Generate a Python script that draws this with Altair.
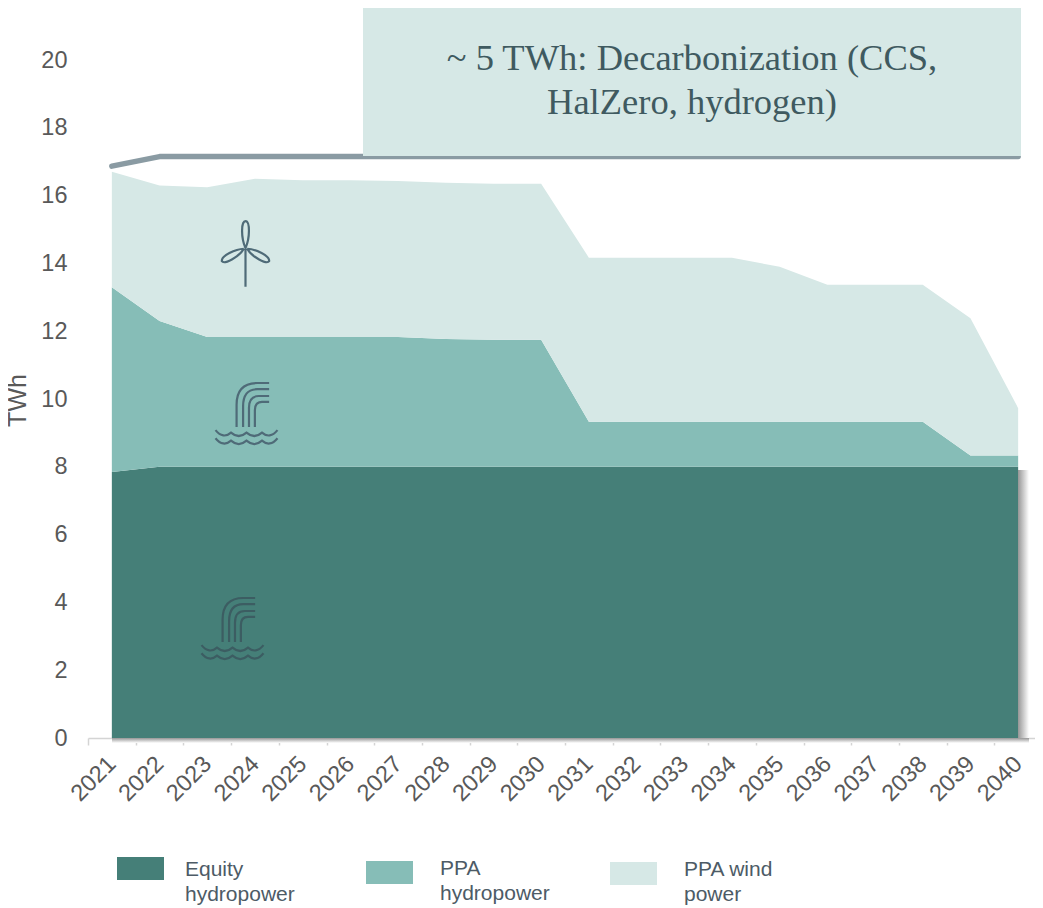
import altair as alt
import pandas as pd

years = [str(y) for y in range(2021, 2041)]
equity = [7.85] + [8.0] * 19
ppa_hydro = [5.45, 4.3, 3.83, 3.83, 3.83, 3.83, 3.83, 3.77, 3.75, 3.75,
             1.33, 1.33, 1.33, 1.33, 1.33, 1.33, 1.33, 1.33, 0.33, 0.33]
ppa_wind = [3.4, 4.0, 4.42, 4.67, 4.62, 4.62, 4.6, 4.61, 4.6, 4.6,
            4.84, 4.84, 4.84, 4.84, 4.57, 4.04, 4.04, 4.04, 4.05, 1.4]
target = [16.87] + [17.15] * 19
series = ["Equity hydropower", "PPA hydropower", "PPA wind power"]
colors = ["#457f78", "#86bdb7", "#d6e8e6"]
y_ticks = list(range(0, 21, 2))
box_lines = ["~ 5 TWh: Decarbonization (CCS,", "HalZero, hydrogen)"]

TXT = "#595959"
FONT = "Liberation Sans"
ICON = "#4f6b78"
LEFT, TOP, W, H = 88, 8, 954, 730
YMAX = 730 / 33.9

rows = []
for name, vals, order in zip(series, [equity, ppa_hydro, ppa_wind], [0, 1, 2]):
    for yr, v in zip(years, vals):
        rows.append({"year": yr, "value": v, "series": name, "order": order})
df = pd.DataFrame(rows)

x_enc = alt.X(
    "year:N", bandPosition=0.5, title=None,
    scale=alt.Scale(type="band", paddingInner=0, paddingOuter=0, domain=years),
    axis=alt.Axis(labelAngle=315, labelFontSize=23.5, labelFont=FONT, labelColor=TXT,
                  labelPadding=15, labelAlign="right", labelBaseline="middle",
                  tickBand="extent", tickColor="#d4d4d4", tickSize=7, tickWidth=1.5,
                  domainColor="#d4d4d4", domainWidth=1.5, grid=False),
)
y_scale = alt.Scale(domain=[0, YMAX], nice=False)

areas = alt.Chart(df).mark_area(opacity=1).encode(
    x=x_enc,
    y=alt.Y("value:Q", stack="zero", title="TWh", scale=y_scale,
            axis=alt.Axis(values=y_ticks, labelFontSize=23.5, labelFont=FONT, labelColor=TXT,
                          labelPadding=21, ticks=False, domain=False, grid=False,
                          titleFontSize=25, titleFont=FONT, titleColor=TXT,
                          titleFontWeight="normal", titleX=-58, titleY=392)),
    color=alt.Color("series:N", legend=None,
                    scale=alt.Scale(domain=series, range=colors)),
    order=alt.Order("order:Q"),
)

line = alt.Chart(pd.DataFrame({"year": years, "target": target})).mark_line(
    color="#8a9ba3", strokeWidth=5.5, strokeCap="round", strokeJoin="round"
).encode(x=x_enc, y=alt.Y("target:Q", scale=y_scale))

one = pd.DataFrame({"a": [0]})

def grad(x2, y2):
    return alt.Gradient(gradient="linear", x1=0, y1=0, x2=x2, y2=y2,
                        stops=[alt.GradientStop(offset=0, color="#969696"),
                               alt.GradientStop(offset=1, color="#ffffff")])

shadow_r = alt.Chart(one).mark_rect(fill=grad(1, 0)).encode(
    x=alt.value(1018 - LEFT), x2=alt.value(1029 - LEFT),
    y=alt.value(470 - TOP), y2=alt.value(742 - TOP))
shadow_b = alt.Chart(one).mark_rect(fill=grad(0, 1)).encode(
    x=alt.value(112 - LEFT), x2=alt.value(1029 - LEFT),
    y=alt.value(738 - TOP), y2=alt.value(743 - TOP))

box = alt.Chart(one).mark_rect(fill="#d6e8e6").encode(
    x=alt.value(363 - LEFT), x2=alt.value(1021 - LEFT),
    y=alt.value(0), y2=alt.value(156 - TOP))

box_text = alt.Chart(pd.DataFrame({"t": box_lines, "py": [59 - TOP, 103 - TOP]})).mark_text(
    font="Liberation Serif", fontSize=36.5, color="#3f5a60", align="center", baseline="middle"
).encode(text="t:N", x=alt.value(692 - LEFT), y=alt.Y("py:Q", scale=None))

TURBINE = ("M0 -.18 L0 1 M0 -.18 C-.14 -.5 -.14 -1 0 -1 C.14 -1 .14 -.5 0 -.18 "
           "M-.05 -.16 C-.3 -.15 -.75 .05 -.72 .22 C-.65 .32 -.2 .1 -.05 -.16 "
           "M.05 -.16 C.3 -.15 .75 .05 .72 .22 C.65 .32 .2 .1 .05 -.16")
HYDRO = ("M-.32 .42 L-.32 -.3 Q-.32 -1 .35 -1 L.73 -1 "
         "M-.11 .42 L-.11 -.25 Q-.11 -.8 .35 -.8 L.73 -.8 "
         "M.08 .42 L.08 -.2 Q.08 -.58 .4 -.58 L.73 -.58 "
         "M.27 .42 L.27 -.12 Q.27 -.39 .5 -.39 L.73 -.39 "
         "M-1 .52 Q-.75 .82 -.5 .6 Q-.25 .82 0 .6 Q.25 .82 .5 .6 Q.75 .82 1 .52 "
         "M-1 .78 Q-.75 1.08 -.5 .86 Q-.25 1.08 0 .86 Q.25 1.08 .5 .86 Q.75 1.08 1 .78")

def icon(path, cx, cy, size, color):
    return alt.Chart(one).mark_point(shape=path, size=size, filled=False, stroke=color,
                                     strokeWidth=2.2, opacity=1).encode(
        x=alt.value(cx - LEFT), y=alt.value(cy - TOP))

icons = [icon(TURBINE, 245.5, 254, 4300, ICON),
         icon(HYDRO, 246.5, 414, 3844, ICON),
         icon(HYDRO, 232.5, 629, 3844, "#3c5d62")]

legend_rects = [
    alt.Chart(one).mark_rect(fill=c).encode(
        x=alt.value(x0 - LEFT), x2=alt.value(x0 + 47 - LEFT),
        y=alt.value(y0 - TOP), y2=alt.value(y0 + 23 - TOP))
    for c, x0, y0 in zip(colors, [117, 366, 610], [857, 861, 862])
]
legend_labels = [
    ["Equity", "hydropower"], ["PPA", "hydropower"], ["PPA wind", "power"]
]
legend_text = []
for lines, x0, y0 in zip(legend_labels, [185, 440, 684], [870, 869, 870]):
    for i, t in enumerate(lines):
        legend_text.append(
            alt.Chart(pd.DataFrame({"t": [t]})).mark_text(
                font=FONT, fontSize=21, color="#4d5b66", align="left", baseline="middle"
            ).encode(text="t:N", x=alt.value(x0 - LEFT), y=alt.value(y0 + i * 25 - TOP))
        )

chart = alt.layer(
    line, areas, shadow_r, shadow_b, box, box_text, *icons, *legend_rects, *legend_text
).resolve_scale(y="shared").properties(
    width=W, height=H,
    autosize=alt.AutoSizeParams(type="none"),
    padding={"left": 80, "top": 0, "right": -7, "bottom": 170},
).configure_view(stroke=None)

chart.save("out.html", embed_options={"renderer": "svg", "actions": False})
